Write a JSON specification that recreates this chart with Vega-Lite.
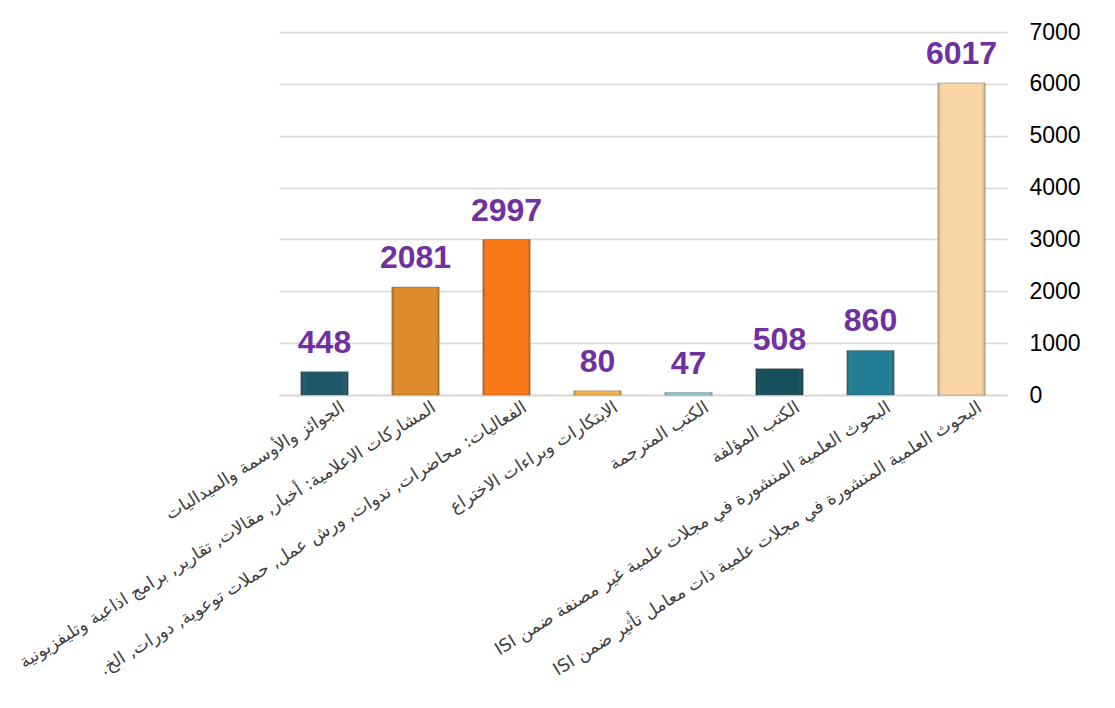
{
  "$schema": "https://vega.github.io/schema/vega-lite/v6.json",
  "width": 728,
  "height": 363,
  "autosize": {"type": "none"},
  "padding": {"left": 279, "top": 32, "right": 108, "bottom": 313},
  "background": "white",
  "config": {"view": {"stroke": null}},
  "data": {
    "values": [
      {"order": 1, "label": "الجوائز والأوسمة والميداليات", "value": 448},
      {"order": 2, "label": "المشاركات الاعلامية: أخبار, مقالات, تقارير, برامج اذاعية وتليفزيونية", "value": 2081},
      {"order": 3, "label": "الفعاليات: محاضرات, ندوات, ورش عمل, حملات توعوية, دورات, الخ.", "value": 2997},
      {"order": 4, "label": "الابتكارات وبراءات الاختراع", "value": 80},
      {"order": 5, "label": "الكتب المترجمة", "value": 47},
      {"order": 6, "label": "الكتب المؤلفة", "value": 508},
      {"order": 7, "label": "البحوث العلمية المنشورة في مجلات علمية غير مصنفة ضمن  ISI", "value": 860},
      {"order": 8, "label": "البحوث العلمية المنشورة في مجلات علمية ذات معامل تأثير ضمن   ISI", "value": 6017}
    ]
  },
  "encoding": {
    "x": {
      "field": "label",
      "type": "nominal",
      "sort": {"field": "order"},
      "scale": {"paddingInner": 0.48, "paddingOuter": 0.24},
      "axis": {
        "title": null,
        "labelAngle": -32,
        "labelAlign": "right",
        "labelBaseline": "top",
        "labelFont": "DejaVu Sans",
        "labelFontSize": 17.5,
        "labelColor": "#404040",
        "labelLimit": 1000,
        "labelPadding": 3,
        "labelOffset": 14,
        "labelExpr": "'\u202b' + datum.label + '\u202c'",
        "ticks": false,
        "domain": true,
        "domainColor": "#D9D9D9",
        "domainWidth": 2
      }
    }
  },
  "layer": [
    {
      "mark": {"type": "bar", "stroke": "#5a4a3a", "strokeOpacity": 0.35, "strokeWidth": 1},
      "encoding": {
        "y": {
          "field": "value",
          "type": "quantitative",
          "scale": {"domain": [0, 7000]},
          "axis": {
            "orient": "right",
            "title": null,
            "format": "d",
            "values": [0, 1000, 2000, 3000, 4000, 5000, 6000, 7000],
            "labelFont": "Liberation Sans",
            "labelFontSize": 23,
            "labelColor": "#000000",
            "labelPadding": 22,
            "ticks": false,
            "domain": false,
            "grid": true,
            "gridColor": "#D9D9D9",
            "gridWidth": 1.5
          }
        },
        "color": {
          "field": "order",
          "type": "nominal",
          "legend": null,
          "scale": {
            "domain": [1, 2, 3, 4, 5, 6, 7, 8],
            "range": ["#1E5866", "#DE8A2A", "#FA7716", "#F6B54A", "#8FD0E8", "#164E5C", "#217C94", "#F9D6A6"]
          }
        }
      }
    },
    {
      "mark": {
        "type": "bar",
        "fill": {
          "gradient": "linear",
          "x1": 0, "y1": 0, "x2": 1, "y2": 0,
          "stops": [
            {"offset": 0, "color": "rgba(0,0,0,0.22)"},
            {"offset": 0.12, "color": "rgba(255,255,255,0.0)"},
            {"offset": 0.88, "color": "rgba(255,255,255,0.0)"},
            {"offset": 1, "color": "rgba(0,0,0,0.22)"}
          ]
        }
      },
      "encoding": {
        "y": {"field": "value", "type": "quantitative"}
      }
    },
    {
      "mark": {
        "type": "text",
        "baseline": "bottom",
        "dy": -12,
        "font": "Liberation Sans",
        "fontWeight": "bold",
        "fontSize": 32,
        "color": "#7030A0"
      },
      "encoding": {
        "y": {"field": "value", "type": "quantitative"},
        "text": {"field": "value", "type": "quantitative", "format": "d"}
      }
    }
  ]
}
